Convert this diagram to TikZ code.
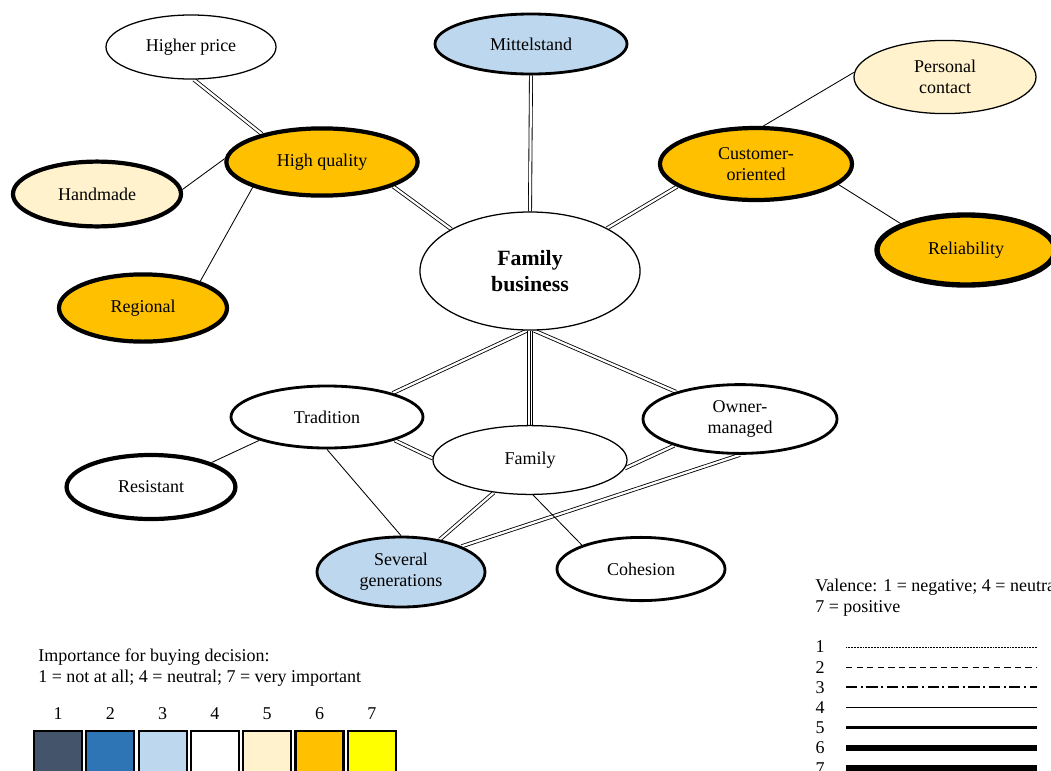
\documentclass[tikz,border=0pt]{standalone}
\usepackage{fontspec}
\setmainfont{Liberation Serif}
\usetikzlibrary{shapes.geometric,backgrounds}

\definecolor{imp1}{HTML}{44546A}
\definecolor{imp2}{HTML}{2E75B6}
\definecolor{imp3}{HTML}{BDD7EE}
\definecolor{imp4}{HTML}{FFFFFF}
\definecolor{imp5}{HTML}{FFF2CC}
\definecolor{imp6}{HTML}{FFC000}
\definecolor{imp7}{HTML}{FFFF00}

\tikzset{
	attr/.style={ellipse, draw, inner sep=0pt, align=center},
	rim4/.style={line width=0.9pt},
	rim5/.style={line width=2pt},
	rim6/.style={line width=3pt},
	rim7/.style={line width=3.8pt},
	sgl/.style={line width=0.6pt},
	dbl/.style={double, line width=0.6pt, double distance=1.6pt},
	tpl/.style={double, line width=0.6pt, double distance=3.4pt},
	v1/.style={line width=0.6pt, dash pattern=on 0.5pt off 0.6pt},
	v2/.style={line width=0.9pt, dash pattern=on 4.5pt off 3pt},
	v3/.style={line width=1.3pt, dash pattern=on 8pt off 2.5pt on 1.5pt off 2.5pt},
	v4/.style={line width=1pt},
	v5/.style={line width=2pt},
	v6/.style={line width=3.6pt},
	v7/.style={line width=5pt}
}

\begin{document}
\begin{tikzpicture}[x=0.025cm, y=-0.025cm, font=\fontsize{12.8}{15}\selectfont]
		\useasboundingbox (0,0) rectangle (1051,770);
		
		%attributes
		\node (hp) at (191,47) [attr, rim4, fill=imp4, minimum width=4.25cm, minimum height=1.6cm]{Higher price};
		\node (ms) at (531,44) [attr, rim5, fill=imp3, minimum width=4.8cm, minimum height=1.5cm]{Mittelstand};
		\node (pc) at (945,77) [attr, rim4, fill=imp5, minimum width=4.55cm, minimum height=1.83cm]{Personal\\contact};
		\node (hq) at (322,162) [attr, rim6, fill=imp6, minimum width=4.78cm, minimum height=1.68cm]{High quality};
		\node (co) at (756,164) [attr, rim6, fill=imp6, minimum width=4.8cm, minimum height=1.8cm]{Customer-\\oriented};
		\node (hm) at (97,194) [attr, rim6, fill=imp5, minimum width=4.2cm, minimum height=1.62cm]{Handmade};
		\node (rel) at (966,250) [attr, rim7, fill=imp6, minimum width=4.45cm, minimum height=1.75cm]{Reliability};
		\node (fb) at (530,271) [attr, rim4, fill=imp4, minimum width=5.5cm, minimum height=2.95cm, font=\fontsize{15.5}{18.5}\selectfont\bfseries]{Family\\business};
		\node (reg) at (143,308) [attr, rim6, fill=imp6, minimum width=4.2cm, minimum height=1.68cm]{Regional};
		\node (trad) at (327,417) [attr, rim5, fill=imp4, minimum width=4.8cm, minimum height=1.55cm]{Tradition};
		\node (om) at (740,419) [attr, rim5, fill=imp4, minimum width=4.85cm, minimum height=1.72cm]{Owner-\\managed};
		\node (fam) at (530,460) [attr, rim4, fill=imp4, minimum width=4.85cm, minimum height=1.72cm]{Family};
		\node (res) at (151,487) [attr, rim6, fill=imp4, minimum width=4.22cm, minimum height=1.6cm]{Resistant};
		\node (sg) at (401,572) [attr, rim5, fill=imp3, minimum width=4.2cm, minimum height=1.75cm]{Several\\generations};
		\node (coh) at (641,569) [attr, rim5, fill=imp4, minimum width=4.2cm, minimum height=1.58cm]{Cohesion};
		
		%links
		\begin{scope}[on background layer]
			\draw[dbl] (hp.-85) -- (hq.155);
			\draw[sgl] (hq.178) -- (hm.3);
			\draw[sgl] (hq.200) -- (reg.25);
			\draw[dbl] (hq.-19) -- (fb.152);
			\draw[dbl] (ms.south) -- (fb.north);
			\draw[dbl] (co.196) -- (fb.29);
			\draw[sgl] (co.79) -- (pc.177);
			\draw[sgl] (co.-14) -- (rel.158);
			\draw[dbl] (fb.-93) -- (trad.20);
			\draw[tpl] (fb.south) -- (fam.north);
			\draw[sgl] (fb.south) -- (fam.north);
			\draw[dbl] (fb.-86) -- (om.157);
			\draw[sgl] (trad.199) -- (res.22);
			\draw[dbl] (trad.-19) -- (fam.179);
			\draw[sgl] (trad.south) -- (sg.north);
			\draw[dbl] (om.202) -- (fam.-5);
			\draw[dbl] (om.-90) -- (sg.23);
			\draw[dbl] (fam.222) -- (sg.40);
			\draw[sgl] (fam.-85) -- (coh.158);
		\end{scope}
		
		%importance legend
		\node (imptitle) at (38,667.5) [anchor=west, align=left, inner sep=0pt]{Importance for buying decision:\\1 = not at all; 4 = neutral; 7 = very important};
		\foreach \i in {1,...,7}{
			\node (n\i) at (58+52.3*\i-52.3, 714){\i};
			\draw[fill=imp\i, line width=1.5pt] (34+52.3*\i-52.3, 731) rectangle (82+52.3*\i-52.3, 800);
		}
		
		%valence legend
		\node (valtitle) at (815,598) [anchor=west, align=left, inner sep=0pt]{Valence: 1 = negative; 4 = neutral;\\7 = positive};
		\foreach \i in {1,...,7}{
			\node (m\i) at (820, 626.8+20.2*\i){\i};
			\draw[v\i] (846, 626.8+20.2*\i) -- (1037, 626.8+20.2*\i);
		}
\end{tikzpicture}
\end{document}
